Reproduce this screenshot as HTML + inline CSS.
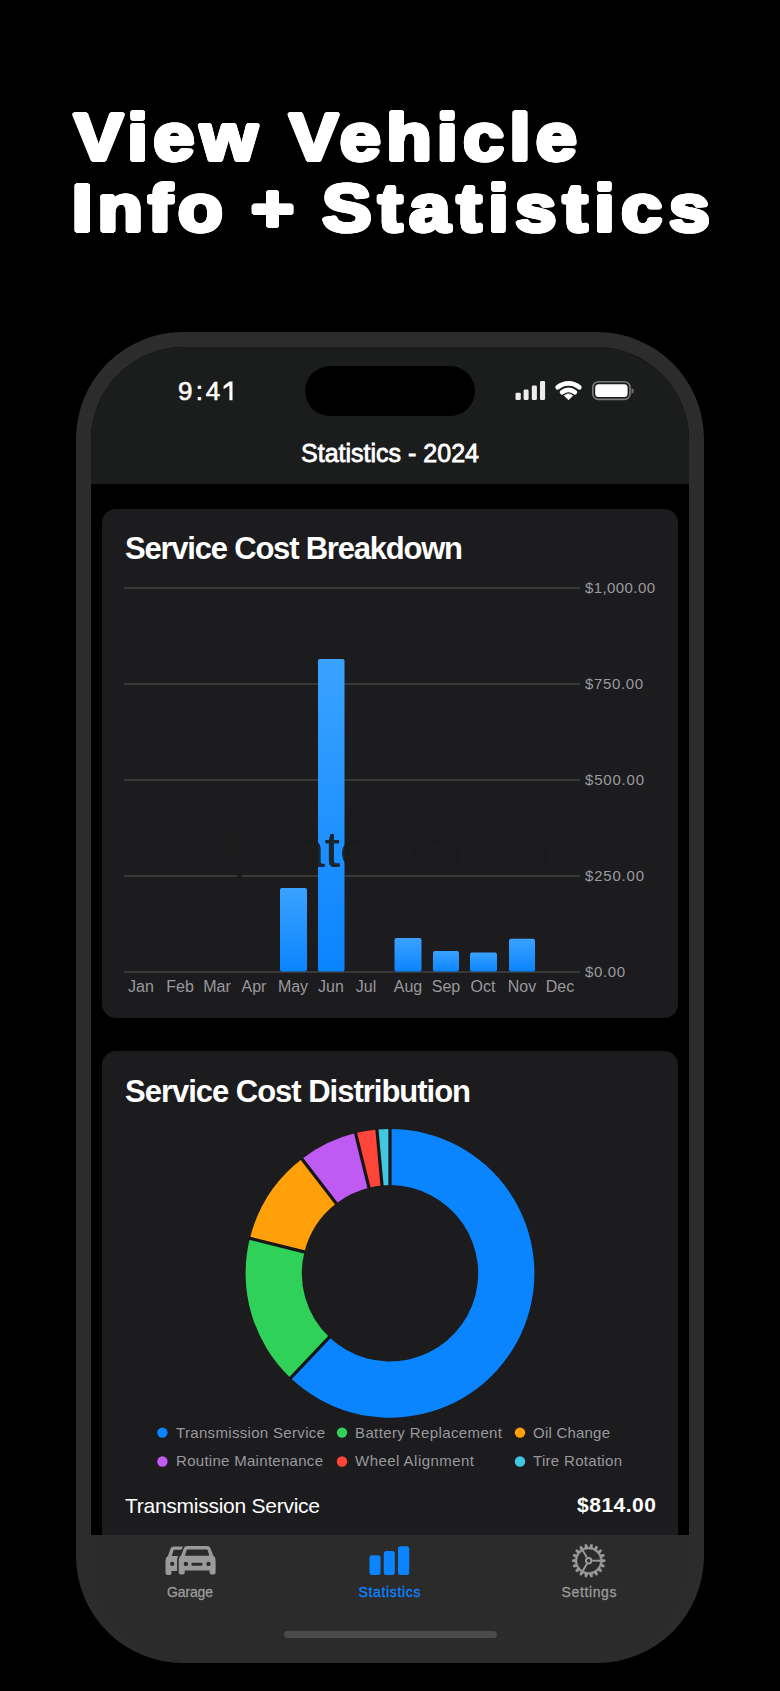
<!DOCTYPE html>
<html><head><meta charset="utf-8">
<style>
html,body{margin:0;padding:0;background:#000;}
body{width:780px;height:1691px;position:relative;overflow:hidden;font-family:"Liberation Sans",sans-serif;}
.frame{position:absolute;left:76px;top:332px;width:628px;height:1331px;background:#2c2c2c;border-radius:107px;}
.screen{position:absolute;left:91px;top:347px;width:598px;height:1301px;background:#000;border-radius:93px;overflow:hidden;}
.header{position:absolute;left:0;top:0;width:598px;height:137px;background:#1b1c1c;}
.island{position:absolute;left:214px;top:19px;width:170px;height:50px;border-radius:25px;background:#000;}
.card{position:absolute;left:11px;width:576px;background:#1c1c1e;border-radius:14px;}
.tabbar{position:absolute;left:0;top:1188px;width:598px;height:113px;background:#2b2b2b;}
.home{position:absolute;left:193px;top:1284px;width:213px;height:7px;border-radius:4px;background:#4a4a4a;}
.title{position:absolute;left:74px;font-weight:700;font-size:67px;color:#fff;white-space:nowrap;line-height:80px;text-shadow:-2px -1px 0 #fff,-2px 0px 0 #fff,-2px 1px 0 #fff,-1px -2px 0 #fff,-1px -1px 0 #fff,-1px 0px 0 #fff,-1px 1px 0 #fff,-1px 2px 0 #fff,0px -2px 0 #fff,0px -1px 0 #fff,0px 1px 0 #fff,0px 2px 0 #fff,1px -2px 0 #fff,1px -1px 0 #fff,1px 0px 0 #fff,1px 1px 0 #fff,1px 2px 0 #fff,2px -1px 0 #fff,2px 0px 0 #fff,2px 1px 0 #fff;}
svg.ov{position:absolute;left:0;top:0;}
</style></head>
<body>
<div class="title" id="t1" style="top:97px;left:74px;letter-spacing:5.1px;transform:scaleX(1.1);transform-origin:0 0">View Vehicle</div>
<div class="title" id="t2" style="top:168px;left:72px;letter-spacing:4.8px;word-spacing:-2.6px;transform:scaleX(1.1);transform-origin:0 0">Info + <span style="letter-spacing:6.05px">Statistics</span></div>
<div class="frame"></div>
<div class="screen">
  <div class="header"><div class="island"></div></div>
  <div class="card" style="top:162px;height:509px;"></div>
  <div class="card" style="top:704px;height:600px;"></div>
  <div class="tabbar"></div>
  <div class="home"></div>
</div>
<svg class="ov" width="780" height="1691" viewBox="0 0 780 1691" font-family="Liberation Sans, sans-serif">
  <!-- headline -->

  <!-- status bar -->
  <text x="178 195.8 205.8" y="400" font-size="26" fill="#fff" stroke="#fff" stroke-width="0.6">9:4</text>
  <path d="M229.4 381.4 H232.5 V400.3 H229.4 V385.6 L223.6 389.2 V386 Z" fill="#fff"/>
  <g fill="#ececec">
    <rect x="515.5" y="392.7" width="5.3" height="7.4" rx="1.3"/>
    <rect x="523.6" y="389.6" width="5" height="10.5" rx="1.3"/>
    <rect x="531.8" y="385.5" width="5.1" height="14.6" rx="1.3"/>
    <rect x="540" y="381.1" width="5.1" height="19" rx="1.3"/>
  </g>
  <g fill="#fff">
    <path d="M568.5 399.8 L564.33 395.63 A5.9 5.9 0 0 1 572.67 395.63 Z" stroke="#fff" stroke-width="0.8" stroke-linejoin="round"/>
    <path d="M562.17 392.25 A9.85 9.85 0 0 1 574.83 392.25" fill="none" stroke="#fff" stroke-width="4.8" stroke-linecap="round"/>
    <path d="M557.68 387.35 A16.5 16.5 0 0 1 579.32 387.35" fill="none" stroke="#fff" stroke-width="4.7" stroke-linecap="round"/>
  </g>
  <rect x="592.8" y="381.8" width="37.2" height="17.6" rx="5.5" fill="none" stroke="#7a7a7a" stroke-width="1.6"/>
  <rect x="595.2" y="384.2" width="32.4" height="12.8" rx="3.5" fill="#fff"/>
  <path d="M631.5 388 Q634 389 634 391 Q634 393 631.5 394 Z" fill="#6a6a6a"/>
  <!-- nav title -->
  <text x="301" y="462" font-size="25" fill="#fff" stroke="#fff" stroke-width="0.8" textLength="178" lengthAdjust="spacing">Statistics - 2024</text>

  <!-- card 1 -->
  <text x="125" y="559" font-size="31" font-weight="700" fill="#fff" textLength="338" lengthAdjust="spacing">Service Cost Breakdown</text>
  <g fill="#414141">
    <rect x="124" y="587.2" width="456" height="1.6"/>
    <rect x="124" y="683.2" width="456" height="1.6"/>
    <rect x="124" y="779.2" width="456" height="1.6"/>
    <rect x="124" y="875.2" width="456" height="1.6"/>
    <rect x="124" y="971.2" width="456" height="1.6"/>
  </g>
  <g fill="#9a9a9e" font-size="15">
    <text x="585" y="593" textLength="70" lengthAdjust="spacing">$1,000.00</text>
    <text x="585" y="689" textLength="58" lengthAdjust="spacing">$750.00</text>
    <text x="585" y="785" textLength="59" lengthAdjust="spacing">$500.00</text>
    <text x="585" y="881" textLength="59" lengthAdjust="spacing">$250.00</text>
    <text x="585" y="977" textLength="40" lengthAdjust="spacing">$0.00</text>
  </g>
  <defs>
    <linearGradient id="bg" x1="0" y1="0" x2="0" y2="1">
      <stop offset="0" stop-color="#3aa2ff"/>
      <stop offset="1" stop-color="#0a84ff"/>
    </linearGradient>
  </defs>
  <g fill="url(#bg)">
    <rect x="280" y="888" width="27" height="83.5" rx="2"/>
    <rect x="318" y="659" width="26.5" height="312.5" rx="2"/>
    <rect x="394.5" y="938" width="27" height="33.5" rx="2"/>
    <rect x="433" y="951" width="26" height="20.5" rx="2"/>
    <rect x="470" y="952.6" width="27" height="18.9" rx="2"/>
    <rect x="509" y="938.7" width="26" height="32.8" rx="2"/>
  </g>
  <clipPath id="junclip"><rect x="318" y="659" width="26.5" height="312.5"/><rect x="280" y="888" width="27" height="83.5"/></clipPath>
  <text x="194" y="866.5" font-size="50" fill="#1b1b1d" textLength="392" lengthAdjust="spacingAndGlyphs">UpdateStar.com</text>
  <text x="194" y="866.5" font-size="50" fill="#1b2633" textLength="392" lengthAdjust="spacingAndGlyphs" clip-path="url(#junclip)">UpdateStar.com</text>
  <g fill="#98989d" font-size="16" text-anchor="middle">
    <text x="141" y="992">Jan</text>
    <text x="180" y="992">Feb</text>
    <text x="217" y="992">Mar</text>
    <text x="254" y="992">Apr</text>
    <text x="293" y="992">May</text>
    <text x="331" y="992">Jun</text>
    <text x="366" y="992">Jul</text>
    <text x="408" y="992">Aug</text>
    <text x="446" y="992">Sep</text>
    <text x="483" y="992">Oct</text>
    <text x="522" y="992">Nov</text>
    <text x="560" y="992">Dec</text>
  </g>

  <!-- card 2 -->
  <text x="125" y="1101.5" font-size="31" font-weight="700" fill="#fff" textLength="346" lengthAdjust="spacing">Service Cost Distribution</text>
  <g id="donut">
<path d="M390.00 1128.90A144.4 144.4 0 1 1 290.60 1378.04L329.29 1337.28A88.2 88.2 0 1 0 390.00 1185.10Z" fill="#0a84ff"/>
<path d="M290.60 1378.04A144.4 144.4 0 0 1 249.89 1238.37L304.42 1251.96A88.2 88.2 0 0 0 329.29 1337.28Z" fill="#30d158"/>
<path d="M249.89 1238.37A144.4 144.4 0 0 1 301.90 1158.89L336.19 1203.42A88.2 88.2 0 0 0 304.42 1251.96Z" fill="#ff9f0a"/>
<path d="M301.90 1158.89A144.4 144.4 0 0 1 355.56 1133.07L368.96 1187.65A88.2 88.2 0 0 0 336.19 1203.42Z" fill="#bf5af2"/>
<path d="M355.56 1133.07A144.4 144.4 0 0 1 376.91 1129.49L382.01 1185.46A88.2 88.2 0 0 0 368.96 1187.65Z" fill="#ff453a"/>
<path d="M376.91 1129.49A144.4 144.4 0 0 1 390.00 1128.90L390.00 1185.10A88.2 88.2 0 0 0 382.01 1185.46Z" fill="#40c8e0"/>

  <line x1="390.00" y1="1185.90" x2="390.00" y2="1128.10" stroke="#161618" stroke-width="3.2"/>
<line x1="329.84" y1="1336.70" x2="290.05" y2="1378.62" stroke="#161618" stroke-width="3.2"/>
<line x1="305.20" y1="1252.16" x2="249.11" y2="1238.17" stroke="#161618" stroke-width="3.2"/>
<line x1="336.67" y1="1204.05" x2="301.41" y2="1158.26" stroke="#161618" stroke-width="3.2"/>
<line x1="369.15" y1="1188.42" x2="355.36" y2="1132.29" stroke="#161618" stroke-width="3.2"/>
<line x1="382.08" y1="1186.26" x2="376.84" y2="1128.70" stroke="#161618" stroke-width="3.2"/>
  </g>
  <g font-size="15" fill="#98989d">
    <circle cx="162.4" cy="1432.6" r="5.2" fill="#0a84ff"/>
    <text x="176" y="1437.5" textLength="149" lengthAdjust="spacing">Transmission Service</text>
    <circle cx="342" cy="1432.6" r="5.2" fill="#30d158"/>
    <text x="355" y="1437.5" textLength="147" lengthAdjust="spacing">Battery Replacement</text>
    <circle cx="520" cy="1432.6" r="5.2" fill="#ff9f0a"/>
    <text x="533" y="1437.5" textLength="77" lengthAdjust="spacing">Oil Change</text>
    <circle cx="162.4" cy="1461.5" r="5.2" fill="#bf5af2"/>
    <text x="176" y="1466.4" textLength="147" lengthAdjust="spacing">Routine Maintenance</text>
    <circle cx="342" cy="1461.5" r="5.2" fill="#ff453a"/>
    <text x="355" y="1466.4" textLength="119" lengthAdjust="spacing">Wheel Alignment</text>
    <circle cx="520" cy="1461.5" r="5.2" fill="#40c8e0"/>
    <text x="533" y="1466.4" textLength="89" lengthAdjust="spacing">Tire Rotation</text>
  </g>
  <text x="125" y="1512.5" font-size="21" fill="#fff" textLength="195" lengthAdjust="spacing">Transmission Service</text>
  <text x="577" y="1511.5" font-size="21" font-weight="700" fill="#fff" textLength="79" lengthAdjust="spacing">$814.00</text>
</svg>
<!-- tab bar overlay (drawn on top of content) -->
<svg class="ov" width="780" height="1691" viewBox="0 0 780 1691" font-family="Liberation Sans, sans-serif" style="pointer-events:none">
    <path d="M91 1535 H689 V1563 A100 100 0 0 1 589 1663 H191 A100 100 0 0 1 91 1563 Z" fill="#2b2b2b"/>
  <rect x="284" y="1631" width="213" height="7" rx="3.5" fill="#4a4a4a"/>
  <!-- garage icon -->
  <clipPath id="backcar"><rect x="150" y="1540" width="34" height="40"/></clipPath>
  <g clip-path="url(#backcar)"><g transform="translate(-13.2 0.3)">
    <path d="M187 1546.1 H207.2 Q209.6 1546.1 210.4 1548.2 L213.2 1555.6 Q215.6 1557 215.6 1560.2 V1572.6 Q215.6 1574.6 213.6 1574.6 H211.6 Q209.6 1574.6 209.6 1572.6 V1570.6 H184.7 V1572.6 Q184.7 1574.6 182.7 1574.6 H180.7 Q178.7 1574.6 178.7 1572.6 V1560.2 Q178.7 1557 181.1 1555.6 L183.8 1548.2 Q184.6 1546.1 187 1546.1 Z" fill="#9a9a9a"/>
    <path d="M187.6 1549.4 H206.8 Q207.5 1549.4 207.7 1550 L209.3 1555.8 H185 L186.7 1550 Q186.9 1549.4 187.6 1549.4 Z" fill="#2b2b2b"/>
    <circle cx="185.4" cy="1563.6" r="2.1" fill="#2b2b2b"/>
  </g></g>
  <path d="M187 1546.1 H207.2 Q209.6 1546.1 210.4 1548.2 L213.2 1555.6 Q215.6 1557 215.6 1560.2 V1572.6 Q215.6 1574.6 213.6 1574.6 H211.6 Q209.6 1574.6 209.6 1572.6 V1570.6 H184.7 V1572.6 Q184.7 1574.6 182.7 1574.6 H180.7 Q178.7 1574.6 178.7 1572.6 V1560.2 Q178.7 1557 181.1 1555.6 L183.8 1548.2 Q184.6 1546.1 187 1546.1 Z" fill="#2b2b2b" stroke="#2b2b2b" stroke-width="3.2" stroke-linejoin="round"/>
  <path d="M187 1546.1 H207.2 Q209.6 1546.1 210.4 1548.2 L213.2 1555.6 Q215.6 1557 215.6 1560.2 V1572.6 Q215.6 1574.6 213.6 1574.6 H211.6 Q209.6 1574.6 209.6 1572.6 V1570.6 H184.7 V1572.6 Q184.7 1574.6 182.7 1574.6 H180.7 Q178.7 1574.6 178.7 1572.6 V1560.2 Q178.7 1557 181.1 1555.6 L183.8 1548.2 Q184.6 1546.1 187 1546.1 Z" fill="#9a9a9a"/>
  <path d="M187.6 1549.4 H206.8 Q207.5 1549.4 207.7 1550 L209.3 1555.8 H185 L186.7 1550 Q186.9 1549.4 187.6 1549.4 Z" fill="#2b2b2b"/>
  <g fill="#2b2b2b">
    <circle cx="185.9" cy="1563.9" r="2.2"/>
    <circle cx="208.5" cy="1563.9" r="2.2"/>
    <rect x="191.4" y="1562.8" width="11.1" height="3" rx="1.3"/>
  </g>
  <text x="167" y="1597" font-size="14" fill="#9a9a9a" stroke="#9a9a9a" stroke-width="0.3" textLength="46" lengthAdjust="spacing">Garage</text>
  <!-- statistics icon -->
  <g fill="#0a84ff">
    <rect x="369.5" y="1555.3" width="11" height="19.7" rx="2.5"/>
    <rect x="383.8" y="1551" width="11" height="24" rx="2.5"/>
    <rect x="398" y="1546.3" width="11.2" height="28.7" rx="2.5"/>
  </g>
  <text x="358.5" y="1597" font-size="14" fill="#0a84ff" stroke="#0a84ff" stroke-width="0.3" textLength="62" lengthAdjust="spacing">Statistics</text>
  <!-- settings icon -->
  <g id="gear" fill="none" stroke="#9a9a9a">
<path d="M601.89 1558.96 L605.28 1559.85 L605.28 1561.55 L601.89 1562.44 L601.69 1563.57 L604.57 1565.57 L603.99 1567.17 L600.49 1566.85 L599.92 1567.84 L601.95 1570.71 L600.85 1572.01 L597.68 1570.51 L596.80 1571.25 L597.72 1574.63 L596.25 1575.48 L593.78 1572.99 L592.71 1573.38 L592.42 1576.88 L590.74 1577.17 L589.27 1573.99 L588.13 1573.99 L586.66 1577.17 L584.98 1576.88 L584.69 1573.38 L583.62 1572.99 L581.15 1575.48 L579.68 1574.63 L580.60 1571.25 L579.72 1570.51 L576.55 1572.01 L575.45 1570.71 L577.48 1567.84 L576.91 1566.85 L573.41 1567.17 L572.83 1565.57 L575.71 1563.57 L575.51 1562.44 L572.12 1561.55 L572.12 1559.85 L575.51 1558.96 L575.71 1557.83 L572.83 1555.83 L573.41 1554.23 L576.91 1554.55 L577.48 1553.56 L575.45 1550.69 L576.55 1549.39 L579.72 1550.89 L580.60 1550.15 L579.68 1546.77 L581.15 1545.92 L583.62 1548.41 L584.69 1548.02 L584.98 1544.52 L586.66 1544.23 L588.13 1547.41 L589.27 1547.41 L590.74 1544.23 L592.42 1544.52 L592.71 1548.02 L593.78 1548.41 L596.25 1545.92 L597.72 1546.77 L596.80 1550.15 L597.68 1550.89 L600.85 1549.39 L601.95 1550.69 L599.92 1553.56 L600.49 1554.55 L603.99 1554.23 L604.57 1555.83 L601.69 1557.83 Z M600.40 1560.70 A11.7 11.7 0 1 0 577.00 1560.70 A11.7 11.7 0 1 0 600.40 1560.70Z" fill="#9a9a9a" stroke="#9a9a9a" stroke-width="0.4" stroke-linejoin="round" fill-rule="evenodd"/>
<circle cx="588.7" cy="1560.7" r="2.7" stroke-width="2"/>
<line x1="592.30" y1="1560.70" x2="600.90" y2="1560.70" stroke-width="1.9"/>
<line x1="586.90" y1="1563.82" x2="582.60" y2="1571.27" stroke-width="1.9"/>
<line x1="586.90" y1="1557.58" x2="582.60" y2="1550.13" stroke-width="1.9"/>
  </g>
  <text x="561.5" y="1597" font-size="14" fill="#9a9a9a" stroke="#9a9a9a" stroke-width="0.3" textLength="55" lengthAdjust="spacing">Settings</text>
</svg>
</body></html>
